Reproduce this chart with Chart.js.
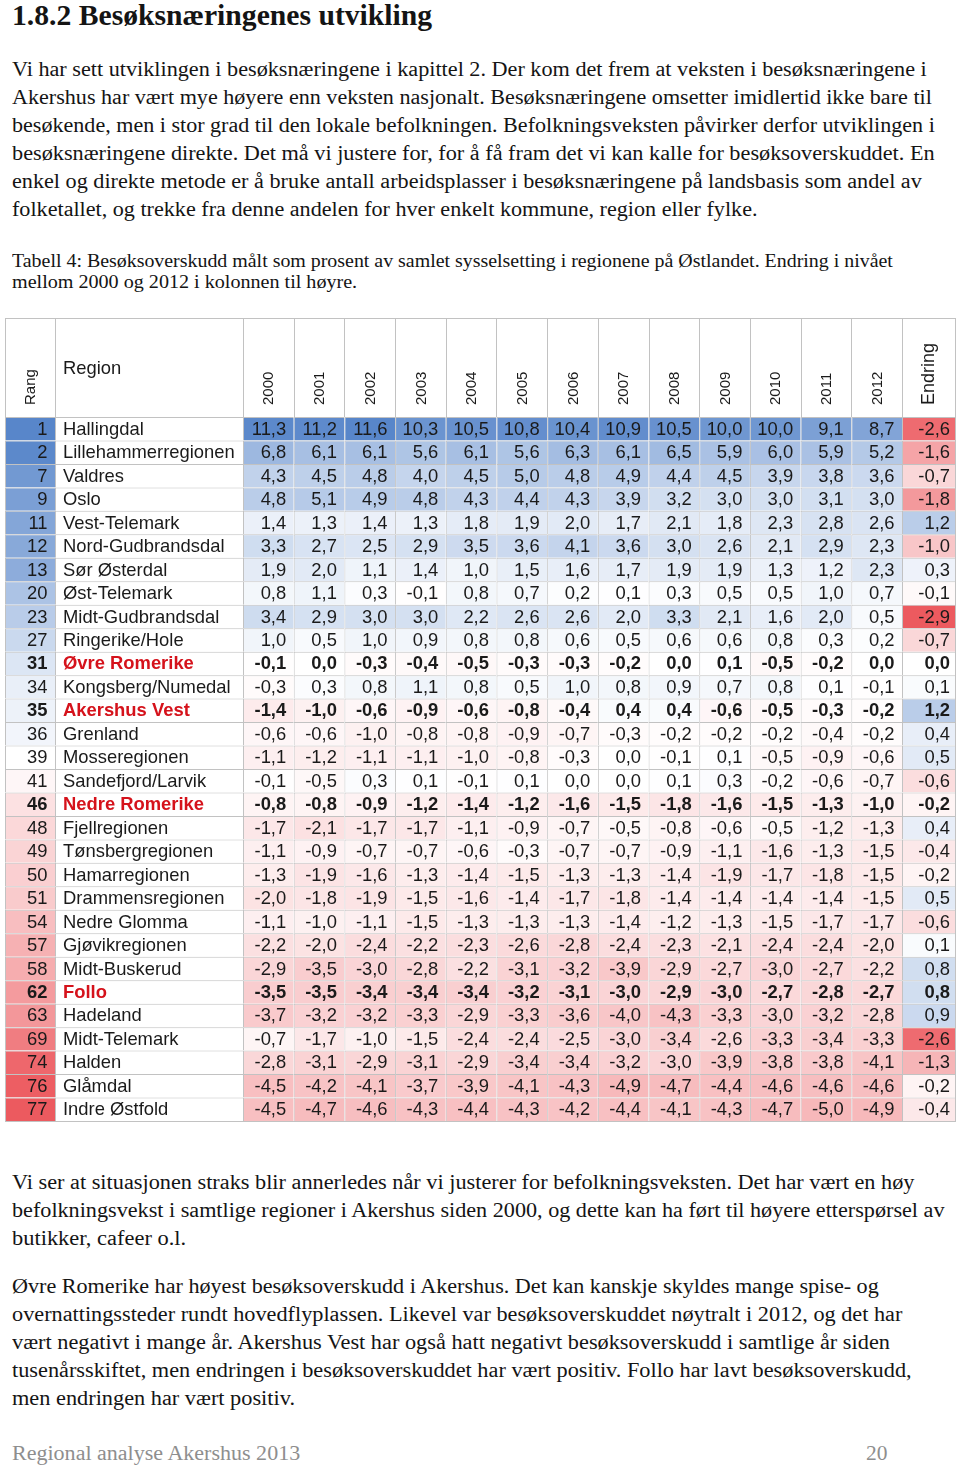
<!DOCTYPE html>
<html>
<head>
<meta charset="utf-8">
<script src="https://cdn.jsdelivr.net/npm/chart.js@4.4.0/dist/chart.umd.min.js"></script>
<style>
body { margin: 0; background: #fff; width: 960px; height: 1466px; position: relative; overflow: hidden;
       font-family: "Liberation Serif", "DejaVu Serif", serif; color: #141414; }
.ln { position: absolute; left: 12px; white-space: nowrap; transform-origin: 0 0; line-height: 1; }
.body { font-size: 20.5px; }
.cap { font-size: 19px; }
#tbl { position: absolute; left: 5px; top: 318px; }
</style>
</head>
<body>
<div class="ln" style="top:0px;font-size:30px;font-weight:bold" data-w="420">1.8.2 Besøksnæringenes utvikling</div>

<div class="ln body" style="top:59px" data-w="915">Vi har sett utviklingen i besøksnæringene i kapittel 2. Der kom det frem at veksten i besøksnæringene i</div>
<div class="ln body" style="top:87px" data-w="920">Akershus har vært mye høyere enn veksten nasjonalt. Besøksnæringene omsetter imidlertid ikke bare til</div>
<div class="ln body" style="top:115px" data-w="923">besøkende, men i stor grad til den lokale befolkningen. Befolkningsveksten påvirker derfor utviklingen i</div>
<div class="ln body" style="top:143px" data-w="923">besøksnæringene direkte. Det må vi justere for, for å få fram det vi kan kalle for besøksoverskuddet. En</div>
<div class="ln body" style="top:171px" data-w="910">enkel og direkte metode er å bruke antall arbeidsplasser i besøksnæringene på landsbasis som andel av</div>
<div class="ln body" style="top:199px" data-w="745">folketallet, og trekke fra denne andelen for hver enkelt kommune, region eller fylke.</div>

<div class="ln cap" style="top:251px" data-w="881">Tabell 4: Besøksoverskudd målt som prosent av samlet sysselsetting i regionene på Østlandet. Endring i nivået</div>
<div class="ln cap" style="top:272px" data-w="345">mellom 2000 og 2012 i kolonnen til høyre.</div>

<canvas id="tbl" width="951" height="804"></canvas>

<div class="ln body" style="top:1172px" data-w="903">Vi ser at situasjonen straks blir annerledes når vi justerer for befolkningsveksten. Det har vært en høy</div>
<div class="ln body" style="top:1200px" data-w="933">befolkningsvekst i samtlige regioner i Akershus siden 2000, og dette kan ha ført til høyere etterspørsel av</div>
<div class="ln body" style="top:1228px" data-w="174">butikker, cafeer o.l.</div>
<div class="ln body" style="top:1276px" data-w="867">Øvre Romerike har høyest besøksoverskudd i Akershus. Det kan kanskje skyldes mange spise- og</div>
<div class="ln body" style="top:1304px" data-w="890">overnattingssteder rundt hovedflyplassen. Likevel var besøksoverskuddet nøytralt i 2012, og det har</div>
<div class="ln body" style="top:1332px" data-w="878">vært negativt i mange år. Akershus Vest har også hatt negativt besøksoverskudd i samtlige år siden</div>
<div class="ln body" style="top:1360px" data-w="900">tusenårsskiftet, men endringen i besøksoverskuddet har vært positiv. Follo har lavt besøksoverskudd,</div>
<div class="ln body" style="top:1388px" data-w="283">men endringen har vært positiv.</div>

<div class="ln body" style="top:1443px;color:#8e8e8e" data-w="288">Regional analyse Akershus 2013</div>
<div class="ln body" style="top:1443px;left:866px;color:#8e8e8e" data-w="22">20</div>

<script>
const regions = ['Hallingdal', 'Lillehammerregionen', 'Valdres', 'Oslo', 'Vest-Telemark', 'Nord-Gudbrandsdal',
    'Sør Østerdal', 'Øst-Telemark', 'Midt-Gudbrandsdal', 'Ringerike/Hole', 'Øvre Romerike', 'Kongsberg/Numedal',
    'Akershus Vest', 'Grenland', 'Mosseregionen', 'Sandefjord/Larvik', 'Nedre Romerike', 'Fjellregionen',
    'Tønsbergregionen', 'Hamarregionen', 'Drammensregionen', 'Nedre Glomma', 'Gjøvikregionen', 'Midt-Buskerud',
    'Follo', 'Hadeland', 'Midt-Telemark', 'Halden', 'Glåmdal', 'Indre Østfold'];
const ranks = [1, 2, 7, 9, 11, 12, 13, 20, 23, 27, 31, 34, 35, 36, 39, 41, 46, 48, 49, 50, 51, 54, 57, 58, 62, 63, 69, 74, 76, 77];
const akershus = ['Øvre Romerike', 'Akershus Vest', 'Nedre Romerike', 'Follo'];
const years = ['2000', '2001', '2002', '2003', '2004', '2005', '2006', '2007', '2008', '2009', '2010', '2011', '2012'];

const v2000 = [11.3, 6.8, 4.3, 4.8, 1.4, 3.3, 1.9, 0.8, 3.4, 1.0, -0.1, -0.3, -1.4, -0.6, -1.1, -0.1, -0.8, -1.7, -1.1, -1.3, -2.0, -1.1, -2.2, -2.9, -3.5, -3.7, -0.7, -2.8, -4.5, -4.5];
const v2001 = [11.2, 6.1, 4.5, 5.1, 1.3, 2.7, 2.0, 1.1, 2.9, 0.5, 0.0, 0.3, -1.0, -0.6, -1.2, -0.5, -0.8, -2.1, -0.9, -1.9, -1.8, -1.0, -2.0, -3.5, -3.5, -3.2, -1.7, -3.1, -4.2, -4.7];
const v2002 = [11.6, 6.1, 4.8, 4.9, 1.4, 2.5, 1.1, 0.3, 3.0, 1.0, -0.3, 0.8, -0.6, -1.0, -1.1, 0.3, -0.9, -1.7, -0.7, -1.6, -1.9, -1.1, -2.4, -3.0, -3.4, -3.2, -1.0, -2.9, -4.1, -4.6];
const v2003 = [10.3, 5.6, 4.0, 4.8, 1.3, 2.9, 1.4, -0.1, 3.0, 0.9, -0.4, 1.1, -0.9, -0.8, -1.1, 0.1, -1.2, -1.7, -0.7, -1.3, -1.5, -1.5, -2.2, -2.8, -3.4, -3.3, -1.5, -3.1, -3.7, -4.3];
const v2004 = [10.5, 6.1, 4.5, 4.3, 1.8, 3.5, 1.0, 0.8, 2.2, 0.8, -0.5, 0.8, -0.6, -0.8, -1.0, -0.1, -1.4, -1.1, -0.6, -1.4, -1.6, -1.3, -2.3, -2.2, -3.4, -2.9, -2.4, -2.9, -3.9, -4.4];
const v2005 = [10.8, 5.6, 5.0, 4.4, 1.9, 3.6, 1.5, 0.7, 2.6, 0.8, -0.3, 0.5, -0.8, -0.9, -0.8, 0.1, -1.2, -0.9, -0.3, -1.5, -1.4, -1.3, -2.6, -3.1, -3.2, -3.3, -2.4, -3.4, -4.1, -4.3];
const v2006 = [10.4, 6.3, 4.8, 4.3, 2.0, 4.1, 1.6, 0.2, 2.6, 0.6, -0.3, 1.0, -0.4, -0.7, -0.3, 0.0, -1.6, -0.7, -0.7, -1.3, -1.7, -1.3, -2.8, -3.2, -3.1, -3.6, -2.5, -3.4, -4.3, -4.2];
const v2007 = [10.9, 6.1, 4.9, 3.9, 1.7, 3.6, 1.7, 0.1, 2.0, 0.5, -0.2, 0.8, 0.4, -0.3, 0.0, 0.0, -1.5, -0.5, -0.7, -1.3, -1.8, -1.4, -2.4, -3.9, -3.0, -4.0, -3.0, -3.2, -4.9, -4.4];
const v2008 = [10.5, 6.5, 4.4, 3.2, 2.1, 3.0, 1.9, 0.3, 3.3, 0.6, 0.0, 0.9, 0.4, -0.2, -0.1, 0.1, -1.8, -0.8, -0.9, -1.4, -1.4, -1.2, -2.3, -2.9, -2.9, -4.3, -3.4, -3.0, -4.7, -4.1];
const v2009 = [10.0, 5.9, 4.5, 3.0, 1.8, 2.6, 1.9, 0.5, 2.1, 0.6, 0.1, 0.7, -0.6, -0.2, 0.1, 0.3, -1.6, -0.6, -1.1, -1.9, -1.4, -1.3, -2.1, -2.7, -3.0, -3.3, -2.6, -3.9, -4.4, -4.3];
const v2010 = [10.0, 6.0, 3.9, 3.0, 2.3, 2.1, 1.3, 0.5, 1.6, 0.8, -0.5, 0.8, -0.5, -0.2, -0.5, -0.2, -1.5, -0.5, -1.6, -1.7, -1.4, -1.5, -2.4, -3.0, -2.7, -3.0, -3.3, -3.8, -4.6, -4.7];
const v2011 = [9.1, 5.9, 3.8, 3.1, 2.8, 2.9, 1.2, 1.0, 2.0, 0.3, -0.2, 0.1, -0.3, -0.4, -0.9, -0.6, -1.3, -1.2, -1.3, -1.8, -1.4, -1.7, -2.4, -2.7, -2.8, -3.2, -3.4, -3.8, -4.6, -5.0];
const v2012 = [8.7, 5.2, 3.6, 3.0, 2.6, 2.3, 2.3, 0.7, 0.5, 0.2, 0.0, -0.1, -0.2, -0.2, -0.6, -0.7, -1.0, -1.3, -1.5, -1.5, -1.5, -1.7, -2.0, -2.2, -2.7, -2.8, -3.3, -4.1, -4.6, -4.9];
const endring = [-2.6, -1.6, -0.7, -1.8, 1.2, -1.0, 0.3, -0.1, -2.9, -0.7, 0.0, 0.1, 1.2, 0.4, 0.5, -0.6, -0.2, 0.4, -0.4, -0.2, 0.5, -0.6, 0.1, 0.8, 0.8, 0.9, -2.6, -1.3, -0.2, -0.4];

const yearValues = [v2000, v2001, v2002, v2003, v2004, v2005, v2006, v2007, v2008, v2009, v2010, v2011, v2012];

// column layout (table pixels): Rang, Region, 13 years, Endring
const yearW = (950 - 50 - 188 - 53) / years.length;
const colWidths = [50, 188].concat(years.map(() => yearW), [53]);
const edges = [0];
colWidths.forEach(w => edges.push(edges[edges.length - 1] + w));

const LINE = '#c2c2c2';
const BLUE = [88, 134, 202];
const RED = [236, 90, 95];
const FONT = '"Liberation Sans", Arial, sans-serif';

function mix(c, t) {
    t = Math.max(0, Math.min(1, t));
    return 'rgb(' + c.map(k => Math.round(255 + (k - 255) * t)).join(',') + ')';
}
function divColor(v, max) {
    return v >= 0 ? mix(BLUE, v / max) : mix(RED, -v / max);
}

const yearMax = Math.max(...yearValues.flat().map(Math.abs));
const endMax = Math.max(...endring.map(Math.abs));
const rMid = (Math.min(...ranks) + Math.max(...ranks)) / 2;
const rHalf = rMid - Math.min(...ranks);

const fmt = v => v.toFixed(1).replace('.', ',');

function cellSet(col, kind, colors, texts) {
    return {
        label: kind,
        kind: kind,
        texts: texts,
        data: regions.map(() => [edges[col], edges[col + 1]]),
        backgroundColor: colors,
        borderColor: LINE,
        borderWidth: { left: 1, top: 1, right: 0, bottom: 0 },
        borderSkipped: false,
        inflateAmount: 0,
        barPercentage: 1,
        categoryPercentage: 1,
        grouped: false
    };
}

const datasets = [];
datasets.push(cellSet(0, 'rang', ranks.map(r => divColor(rMid - r, rHalf)), ranks.map(String)));
datasets.push(cellSet(1, 'region', regions.map(() => '#ffffff'), regions));
yearValues.forEach((vals, j) => {
    datasets.push(cellSet(2 + j, 'year', vals.map(v => divColor(v, yearMax)), vals.map(fmt)));
});
datasets.push(cellSet(2 + years.length, 'endring', endring.map(v => divColor(v, endMax)), endring.map(fmt)));

const cellText = {
    id: 'cellText',
    afterDatasetsDraw(chart) {
        const ctx = chart.ctx;
        ctx.save();
        ctx.textBaseline = 'middle';
        chart.data.datasets.forEach((ds, di) => {
            chart.getDatasetMeta(di).data.forEach((bar, i) => {
                const bold = akershus.includes(regions[i]);
                ctx.font = (bold ? 'bold ' : '') + '18.4px ' + FONT;
                ctx.fillStyle = (ds.kind === 'region' && bold) ? '#d5121b' : '#1a1a1a';
                const left = Math.min(bar.x, bar.base);
                const right = Math.max(bar.x, bar.base);
                if (ds.kind === 'region') {
                    ctx.textAlign = 'left';
                    ctx.fillText(ds.texts[i], left + 8, bar.y + 1);
                } else {
                    ctx.textAlign = 'right';
                    const pad = ds.kind === 'endring' ? 5 : 7.5;
                    ctx.fillText(ds.texts[i], right - pad, bar.y + 1);
                }
            });
        });
        ctx.restore();
    }
};

const header = {
    id: 'header',
    afterDraw(chart) {
        const ctx = chart.ctx;
        const a = chart.chartArea;
        const x = chart.scales.x;
        ctx.save();
        ctx.fillStyle = LINE;
        ctx.fillRect(a.left, 0, a.right - a.left + 1, 1);
        edges.forEach(e => ctx.fillRect(Math.round(x.getPixelForValue(e)), 0, 1, a.top));
        ctx.fillRect(a.right, a.top, 1, a.bottom - a.top + 1);
        ctx.fillRect(a.left, a.bottom, a.right - a.left + 1, 1);

        ctx.fillStyle = '#1a1a1a';
        const colMid = c => (x.getPixelForValue(edges[c]) + x.getPixelForValue(edges[c + 1])) / 2;
        const vertical = (text, cx, size) => {
            ctx.save();
            ctx.font = size + 'px ' + FONT;
            ctx.translate(cx, a.top - 12);
            ctx.rotate(-Math.PI / 2);
            ctx.textAlign = 'left';
            ctx.textBaseline = 'middle';
            ctx.fillText(text, 0, 0);
            ctx.restore();
        };
        vertical('Rang', colMid(0) + 1, 15);
        years.forEach((yr, j) => vertical(yr, colMid(2 + j) + 1, 15));
        vertical('Endring', colMid(2 + years.length) + 1, 18);

        ctx.font = '18.4px ' + FONT;
        ctx.textAlign = 'left';
        ctx.textBaseline = 'alphabetic';
        ctx.fillText('Region', x.getPixelForValue(edges[1]) + 8, 56);
        ctx.restore();
    }
};

new Chart(document.getElementById('tbl'), {
    type: 'bar',
    data: { labels: regions, datasets: datasets },
    options: {
        indexAxis: 'y',
        responsive: false,
        animation: false,
        layout: { padding: { top: 99, left: 0, right: 1, bottom: 1 } },
        scales: {
            x: { type: 'linear', min: 0, max: edges[edges.length - 1], display: false },
            y: { type: 'category', display: false }
        },
        plugins: {
            legend: { display: false },
            tooltip: { enabled: false }
        }
    },
    plugins: [cellText, header]
});

// stretch each text line to the width it has on the page
document.querySelectorAll('.ln').forEach(el => {
    const w = +el.dataset.w;
    el.style.transform = 'scaleX(' + (w / el.offsetWidth) + ')';
});
</script>
</body>
</html>
